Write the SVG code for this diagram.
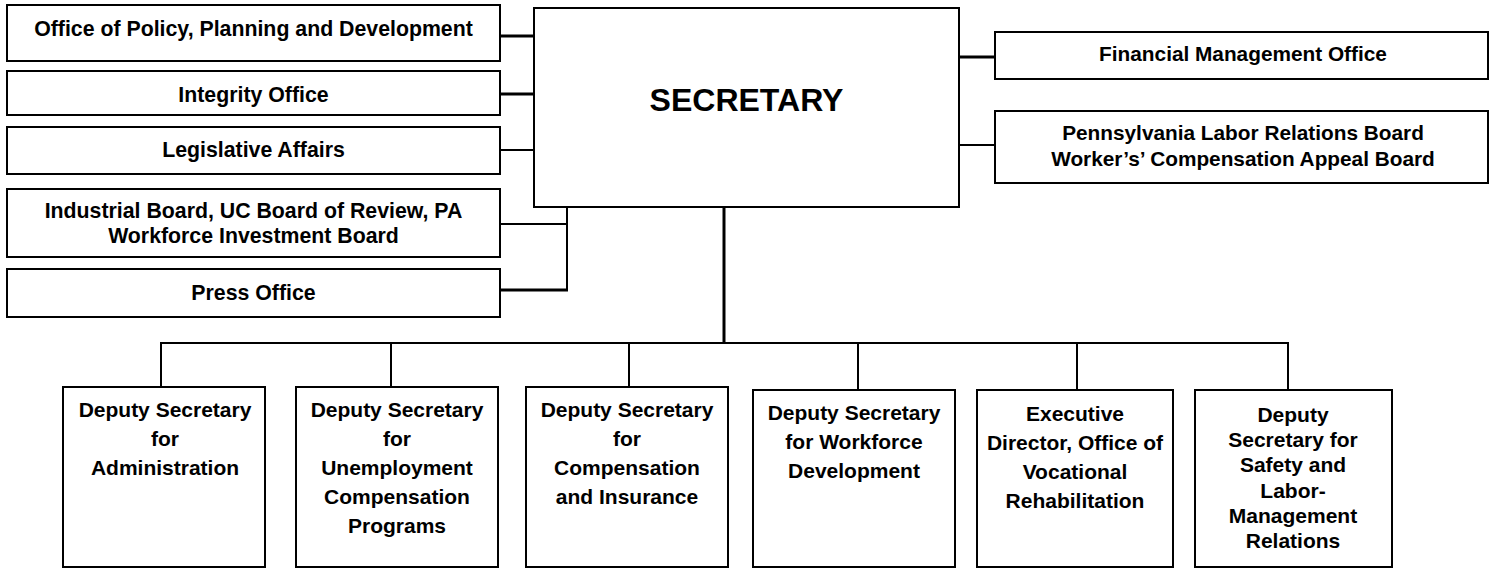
<svg xmlns="http://www.w3.org/2000/svg" width="1496" height="569" viewBox="0 0 1496 569">
<style>
.box{fill:#fff;stroke:#000;stroke-width:2}
.t{font-family:"Liberation Sans",Arial,Helvetica,sans-serif;font-weight:bold;font-size:21px;fill:#000;text-anchor:middle}
.l{font-size:21.3px}
.r{font-size:20.8px}
.big{font-size:32px}
.c{stroke:#000;fill:none;stroke-width:2}
.ck{stroke:#000;fill:none;stroke-width:3}
</style>
<rect width="1496" height="569" fill="#fff"/>
<g id="connectors">
<line class="ck" x1="500" y1="36" x2="534" y2="36"/>
<line class="ck" x1="500" y1="94" x2="534" y2="94"/>
<line class="c" x1="500" y1="150" x2="534" y2="150"/>
<polyline class="c" points="567,207 567,290"/>
<line class="c" x1="500" y1="224" x2="567" y2="224"/>
<line class="ck" x1="500" y1="290" x2="568" y2="290"/>
<line class="ck" x1="959" y1="57" x2="995" y2="57"/>
<line class="c" x1="959" y1="145" x2="995" y2="145"/>
<line class="ck" x1="724" y1="207" x2="724" y2="343"/>
<line class="c" x1="160" y1="343" x2="1289" y2="343"/>
<line class="c" x1="161" y1="343" x2="161" y2="387"/>
<line class="c" x1="391" y1="343" x2="391" y2="387"/>
<line class="c" x1="629" y1="343" x2="629" y2="387"/>
<line class="c" x1="858" y1="343" x2="858" y2="390"/>
<line class="c" x1="1077" y1="343" x2="1077" y2="390"/>
<line class="c" x1="1288" y1="343" x2="1288" y2="390"/>
</g>
<g id="secretary">
<rect class="box" x="534" y="8" width="425" height="199"/>
<text class="t big" x="746.5" y="111">SECRETARY</text>
</g>
<g id="policy">
<rect class="box" x="7" y="5" width="493" height="56"/>
<text class="t l" x="253.5" y="36">Office of Policy, Planning and Development</text>
</g>
<g id="integrity">
<rect class="box" x="7" y="71" width="493" height="44"/>
<text class="t l" x="253.5" y="102">Integrity Office</text>
</g>
<g id="legislative">
<rect class="box" x="7" y="127" width="493" height="47"/>
<text class="t l" x="253.5" y="157">Legislative Affairs</text>
</g>
<g id="industrial">
<rect class="box" x="7" y="189" width="493" height="68"/>
<text class="t l" x="253.5" y="218">Industrial Board, UC Board of Review, PA</text>
<text class="t l" x="253.5" y="243">Workforce Investment Board</text>
</g>
<g id="press">
<rect class="box" x="7" y="269" width="493" height="48"/>
<text class="t l" x="253.5" y="300">Press Office</text>
</g>
<g id="financial">
<rect class="box" x="995" y="32" width="493" height="47"/>
<text class="t r" x="1243" y="61">Financial Management Office</text>
</g>
<g id="plrb">
<rect class="box" x="995" y="111" width="493" height="72"/>
<text class="t r" x="1243" y="140">Pennsylvania Labor Relations Board</text>
<text class="t r" x="1243" y="166">Worker’s’ Compensation Appeal Board</text>
</g>
<g id="admin">
<rect class="box" x="63" y="387" width="202" height="180"/>
<text class="t" x="165" y="417">Deputy Secretary</text>
<text class="t" x="165" y="446">for</text>
<text class="t" x="165" y="475">Administration</text>
</g>
<g id="uc">
<rect class="box" x="296" y="387" width="202" height="180"/>
<text class="t" x="397" y="417">Deputy Secretary</text>
<text class="t" x="397" y="446">for</text>
<text class="t" x="397" y="475">Unemployment</text>
<text class="t" x="397" y="504">Compensation</text>
<text class="t" x="397" y="533">Programs</text>
</g>
<g id="comp">
<rect class="box" x="526" y="387" width="202" height="180"/>
<text class="t" x="627" y="417">Deputy Secretary</text>
<text class="t" x="627" y="446">for</text>
<text class="t" x="627" y="475">Compensation</text>
<text class="t" x="627" y="504">and Insurance</text>
</g>
<g id="workforce">
<rect class="box" x="753" y="390" width="202" height="177"/>
<text class="t" x="854" y="420">Deputy Secretary</text>
<text class="t" x="854" y="449">for Workforce</text>
<text class="t" x="854" y="478">Development</text>
</g>
<g id="ovr">
<rect class="box" x="977" y="390" width="196" height="177"/>
<text class="t" x="1075" y="421">Executive</text>
<text class="t" x="1075" y="450">Director, Office of</text>
<text class="t" x="1075" y="479">Vocational</text>
<text class="t" x="1075" y="508">Rehabilitation</text>
</g>
<g id="safety">
<rect class="box" x="1195" y="390" width="197" height="177"/>
<text class="t" x="1293" y="422">Deputy</text>
<text class="t" x="1293" y="447">Secretary for</text>
<text class="t" x="1293" y="472">Safety and</text>
<text class="t" x="1293" y="498">Labor-</text>
<text class="t" x="1293" y="523">Management</text>
<text class="t" x="1293" y="548">Relations</text>
</g>
</svg>
